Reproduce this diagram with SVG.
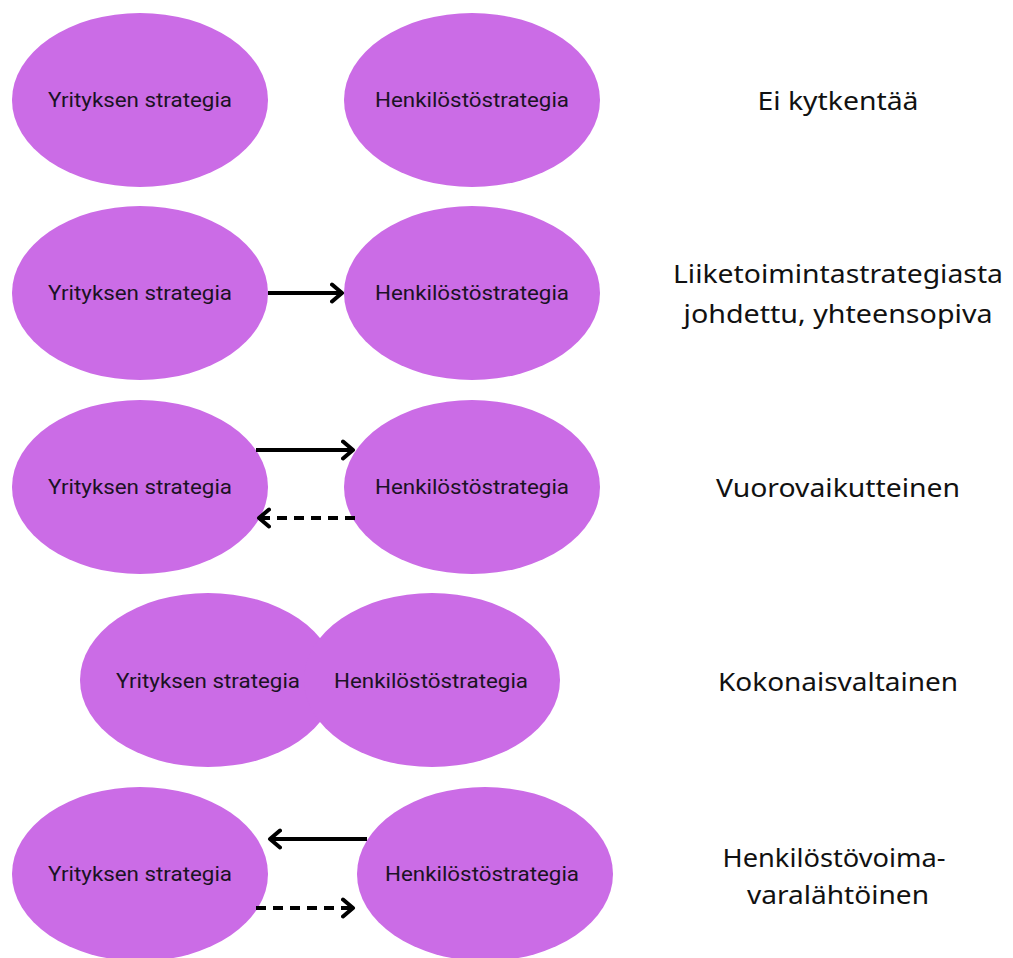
<svg xmlns="http://www.w3.org/2000/svg" width="1013" height="958" viewBox="0 0 1013 958">
<style>
.n{fill:#cb6ce6}
.t{font-family:"Roboto","Liberation Sans",sans-serif;font-size:20.5px;fill:#1b1224;text-anchor:middle;dominant-baseline:central}
.l{font-family:"Noto Sans","Open Sans",sans-serif;font-size:26px;fill:#111;text-anchor:middle;dominant-baseline:central}
.c{stroke:#000;stroke-width:4;fill:none}
.d{stroke-dasharray:10 7}
</style>
<defs>
<marker id="ah" markerUnits="userSpaceOnUse" markerWidth="24" markerHeight="24" viewBox="-12 -12 24 24" refX="0" refY="0" orient="auto">
<path d="M-10,-8.5 L0,0 L-10,8.5" fill="none" stroke="#000" stroke-width="4" stroke-linecap="round" stroke-linejoin="round"/>
</marker>
</defs>
<rect width="1013" height="958" fill="#fff"/>
<g id="row1">
<g id="r1a"><ellipse class="n" cx="140" cy="100" rx="128" ry="87"/><text class="t" x="140" y="100" textLength="184" lengthAdjust="spacingAndGlyphs">Yrityksen strategia</text></g>
<g id="r1b"><ellipse class="n" cx="472" cy="100" rx="128" ry="87"/><text class="t" x="472" y="100" textLength="194" lengthAdjust="spacingAndGlyphs">Henkilöstöstrategia</text></g>
<g id="r1l"><text class="l" x="838" y="100" textLength="161" lengthAdjust="spacingAndGlyphs">Ei kytkentää</text></g>
</g>
<g id="row2">
<g id="r2a"><ellipse class="n" cx="140" cy="293" rx="128" ry="87"/><text class="t" x="140" y="293" textLength="184" lengthAdjust="spacingAndGlyphs">Yrityksen strategia</text></g>
<g id="r2b"><ellipse class="n" cx="472" cy="293" rx="128" ry="87"/><text class="t" x="472" y="293" textLength="194" lengthAdjust="spacingAndGlyphs">Henkilöstöstrategia</text></g>
<g id="r2l"><text class="l" x="838" y="273" textLength="330" lengthAdjust="spacingAndGlyphs">Liiketoimintastrategiasta</text><text class="l" x="838" y="313" textLength="309" lengthAdjust="spacingAndGlyphs">johdettu, yhteensopiva</text></g>
</g>
<g id="row3">
<g id="r3a"><ellipse class="n" cx="140" cy="487" rx="128" ry="87"/><text class="t" x="140" y="487" textLength="184" lengthAdjust="spacingAndGlyphs">Yrityksen strategia</text></g>
<g id="r3b"><ellipse class="n" cx="472" cy="487" rx="128" ry="87"/><text class="t" x="472" y="487" textLength="194" lengthAdjust="spacingAndGlyphs">Henkilöstöstrategia</text></g>
<g id="r3l"><text class="l" x="838" y="487" textLength="244" lengthAdjust="spacingAndGlyphs">Vuorovaikutteinen</text></g>
</g>
<g id="row4">
<g id="r4a"><ellipse class="n" cx="208" cy="680" rx="128" ry="87"/><text class="t" x="208" y="681" textLength="184" lengthAdjust="spacingAndGlyphs">Yrityksen strategia</text></g>
<g id="r4b"><ellipse class="n" cx="432" cy="680" rx="128" ry="87"/><text class="t" x="431" y="681" textLength="194" lengthAdjust="spacingAndGlyphs">Henkilöstöstrategia</text></g>
<g id="r4l"><text class="l" x="838" y="681" textLength="240" lengthAdjust="spacingAndGlyphs">Kokonaisvaltainen</text></g>
</g>
<g id="row5">
<g id="r5a"><ellipse class="n" cx="140" cy="874" rx="128" ry="87"/><text class="t" x="140" y="874" textLength="184" lengthAdjust="spacingAndGlyphs">Yrityksen strategia</text></g>
<g id="r5b"><ellipse class="n" cx="485" cy="874" rx="128" ry="87"/><text class="t" x="482" y="874" textLength="194" lengthAdjust="spacingAndGlyphs">Henkilöstöstrategia</text></g>
<g id="r5l"><text class="l" x="834" y="857" textLength="223" lengthAdjust="spacingAndGlyphs">Henkilöstövoima-</text><text class="l" x="838" y="894" textLength="182" lengthAdjust="spacingAndGlyphs">varalähtöinen</text></g>
</g>
<g id="connectors">
<line class="c" x1="268" y1="293" x2="342" y2="293" marker-end="url(#ah)"/>
<line class="c" x1="256" y1="450" x2="353" y2="450" marker-end="url(#ah)"/>
<line class="c d" x1="355" y1="518" x2="259" y2="518" marker-end="url(#ah)"/>
<line class="c" x1="367" y1="839" x2="270" y2="839" marker-end="url(#ah)"/>
<line class="c d" x1="256" y1="908" x2="353" y2="908" marker-end="url(#ah)"/>
</g>
</svg>
